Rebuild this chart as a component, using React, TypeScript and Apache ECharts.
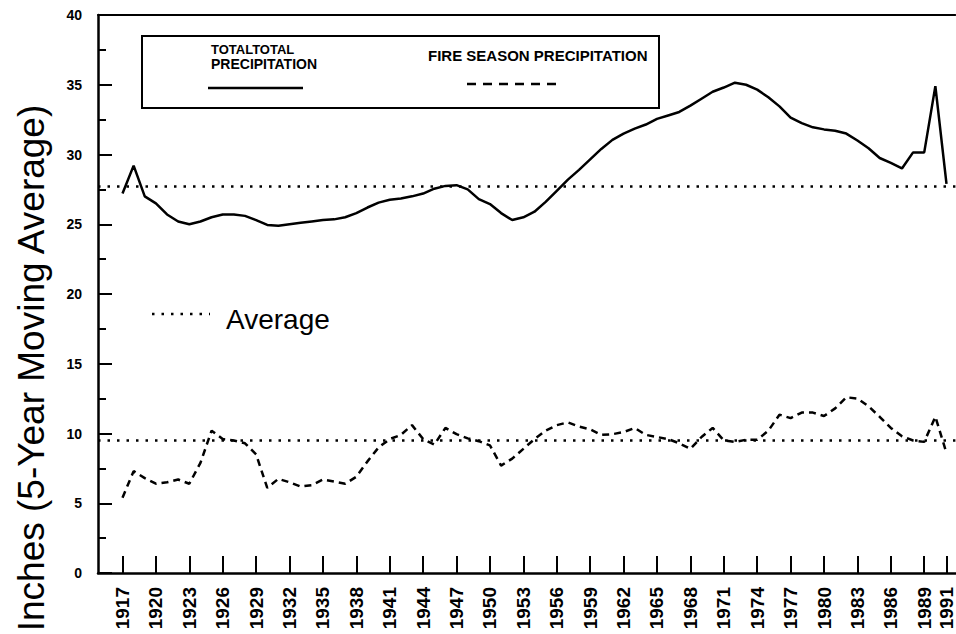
import React, { useEffect, useRef } from "react";
import * as echarts from "echarts";

const FONT = '"Liberation Sans", Arial, Helvetica, sans-serif';

const YEARS = [
  1917, 1918, 1919, 1920, 1921, 1922, 1923, 1924, 1925, 1926, 1927, 1928, 1929, 1930, 1931,
  1932, 1933, 1934, 1935, 1936, 1937, 1938, 1939, 1940, 1941, 1942, 1943, 1944, 1945, 1946,
  1947, 1948, 1949, 1950, 1951, 1952, 1953, 1954, 1955, 1956, 1957, 1958, 1959, 1960, 1961,
  1962, 1963, 1964, 1965, 1966, 1967, 1968, 1969, 1970, 1971, 1972, 1973, 1974, 1975, 1976,
  1977, 1978, 1979, 1980, 1981, 1982, 1983, 1984, 1985, 1986, 1987, 1988, 1989, 1990, 1991,
];

const TOTAL_PRECIP = [
  27.2, 29.2, 27.0, 26.5, 25.7, 25.2, 25.0, 25.2, 25.5, 25.7, 25.7, 25.6, 25.3, 24.95, 24.9,
  25.0, 25.1, 25.2, 25.3, 25.35, 25.5, 25.8, 26.2, 26.55, 26.75, 26.85, 27.0, 27.2, 27.55, 27.75,
  27.8, 27.5, 26.8, 26.45, 25.8, 25.3, 25.5, 25.9, 26.6, 27.4, 28.2, 28.9, 29.65, 30.4, 31.05,
  31.5, 31.85, 32.15, 32.55, 32.8, 33.05, 33.5, 34.0, 34.5, 34.8, 35.15, 35.0, 34.65, 34.1, 33.45,
  32.65, 32.25, 31.95, 31.8, 31.7, 31.5, 31.0, 30.45, 29.75, 29.4, 29.0, 30.15, 30.15, 34.9, 27.9,
];

const FIRE_PRECIP = [
  5.4, 7.3, 6.8, 6.4, 6.5, 6.7, 6.4, 7.9, 10.2, 9.6, 9.5, 9.3, 8.5, 6.1, 6.75,
  6.5, 6.2, 6.3, 6.7, 6.55, 6.4, 6.9, 8.0, 9.0, 9.6, 9.9, 10.6, 9.6, 9.2, 10.4,
  9.95, 9.65, 9.45, 9.15, 7.7, 8.2, 8.9, 9.6, 10.2, 10.6, 10.8, 10.5, 10.3, 9.9, 9.95,
  10.1, 10.4, 9.9, 9.75, 9.6, 9.3, 8.9, 9.75, 10.4, 9.5, 9.4, 9.55, 9.55, 10.2, 11.35,
  11.1, 11.5, 11.5, 11.25, 11.8, 12.6, 12.5, 11.95, 11.2, 10.4, 9.8, 9.5, 9.4, 11.2, 8.6,
];

const TOTAL_AVG = 27.7;
const FIRE_AVG = 9.5;

const TICK_YEARS = [
  1917, 1920, 1923, 1926, 1929, 1932, 1935, 1938, 1941, 1944, 1947, 1950, 1953, 1956, 1959,
  1962, 1965, 1968, 1971, 1974, 1977, 1980, 1983, 1986, 1989, 1991,
];

const X_MIN = 1914.8;
const X_MAX = 1991.8;

const Y_TITLE = "Inches (5-Year Moving Average)";
const LEGEND_TOTAL_1 = "TOTALTOTAL";
const LEGEND_TOTAL_2 = "PRECIPITATION";
const LEGEND_FIRE = "FIRE SEASON PRECIPITATION";
const LEGEND_AVG = "Average";

const INK = "#000";

export default function App() {
  const ref = useRef<HTMLDivElement>(null);

  useEffect(() => {
    if (!ref.current) return;
    const chart = echarts.init(ref.current, null, { renderer: "svg" });

    const avgLine = (v: number) => ({
      silent: true,
      symbol: ["none", "none"],
      label: { show: false },
      lineStyle: { color: INK, width: 2.5, type: [2.5, 7] },
      data: [{ yAxis: v }],
    });

    const textStyle = (text: string, font: string, size: number, align = "left") => ({
      text,
      fill: INK,
      font,
      lineHeight: size,
      align,
      verticalAlign: "middle",
      textAlign: align,
      textVerticalAlign: "middle",
    });

    const option: any = {
      animation: false,
      backgroundColor: "#fff",
      grid: { left: 98, right: 0, top: 15, bottom: 61, containLabel: false },
      xAxis: [
        {
          type: "value",
          min: X_MIN,
          max: X_MAX,
          position: "bottom",
          axisLine: { show: true, onZero: false, lineStyle: { color: INK, width: 2.5 } },
          axisTick: {
            show: true,
            inside: true,
            length: 17,
            customValues: TICK_YEARS,
            lineStyle: { color: INK, width: 2 },
          },
          axisLabel: {
            show: true,
            rotate: 90,
            margin: 14,
            customValues: TICK_YEARS,
            formatter: (v: number) => String(v),
            color: INK,
            fontFamily: FONT,
            fontSize: 19,
            fontWeight: "bold",
          },
          splitLine: { show: false },
        },
        {
          type: "value",
          min: X_MIN,
          max: X_MAX,
          position: "top",
          axisLine: { show: true, onZero: false, lineStyle: { color: INK, width: 2 } },
          axisTick: { show: false },
          axisLabel: { show: false },
          splitLine: { show: false },
        },
      ],
      yAxis: {
        type: "value",
        min: 0,
        max: 40,
        interval: 5,
        axisLine: { show: true, onZero: false, lineStyle: { color: INK, width: 2.5 } },
        axisTick: { show: true, inside: true, length: 14, lineStyle: { color: INK, width: 2 } },
        minorTick: { show: true, splitNumber: 2, length: 8, lineStyle: { color: INK, width: 2 } },
        axisLabel: {
          margin: 16,
          color: INK,
          fontFamily: FONT,
          fontSize: 14,
          fontWeight: "bold",
        },
        splitLine: { show: false },
        minorSplitLine: { show: false },
      },
      series: [
        {
          type: "line",
          name: "TOTAL PRECIPITATION",
          data: YEARS.map((y, i) => [y, TOTAL_PRECIP[i]]),
          symbol: "none",
          showSymbol: false,
          lineStyle: { color: INK, width: 2.5 },
          markLine: avgLine(TOTAL_AVG),
        },
        {
          type: "line",
          name: "FIRE SEASON PRECIPITATION",
          data: YEARS.map((y, i) => [y, FIRE_PRECIP[i]]),
          symbol: "none",
          showSymbol: false,
          lineStyle: { color: INK, width: 2.5, type: [7, 5] },
          markLine: avgLine(FIRE_AVG),
        },
      ],
      graphic: [
        {
          type: "text",
          x: 31,
          y: 368,
          rotation: Math.PI / 2,
          style: textStyle(Y_TITLE, `normal 37px ${FONT}`, 37, "center"),
        },
        {
          type: "rect",
          shape: { x: 142, y: 36, width: 517, height: 72 },
          style: { fill: "none", stroke: INK, lineWidth: 2 },
        },
        {
          type: "text",
          x: 211,
          y: 49,
          style: textStyle(LEGEND_TOTAL_1, `bold 13px ${FONT}`, 13),
        },
        {
          type: "text",
          x: 211,
          y: 64,
          style: textStyle(LEGEND_TOTAL_2, `bold 14px ${FONT}`, 14),
        },
        {
          type: "line",
          shape: { x1: 208, y1: 88, x2: 303, y2: 88 },
          style: { stroke: INK, lineWidth: 2.5 },
        },
        {
          type: "text",
          x: 428,
          y: 55,
          style: textStyle(LEGEND_FIRE, `bold 15px ${FONT}`, 15),
        },
        {
          type: "line",
          shape: { x1: 467, y1: 84, x2: 562, y2: 84 },
          style: { stroke: INK, lineWidth: 2.5, lineDash: [9, 7] },
        },
        {
          type: "line",
          shape: { x1: 152, y1: 314, x2: 210, y2: 314 },
          style: { stroke: INK, lineWidth: 2.5, lineDash: [2.5, 7] },
        },
        {
          type: "text",
          x: 226,
          y: 319,
          style: textStyle(LEGEND_AVG, `normal 28px ${FONT}`, 28),
        },
      ],
    };

    chart.setOption(option);
    return () => chart.dispose();
  }, []);

  return (
    <div
      ref={ref}
      style={{ position: "fixed", left: 0, top: 0, width: 956, height: 634, background: "#fff" }}
    />
  );
}
